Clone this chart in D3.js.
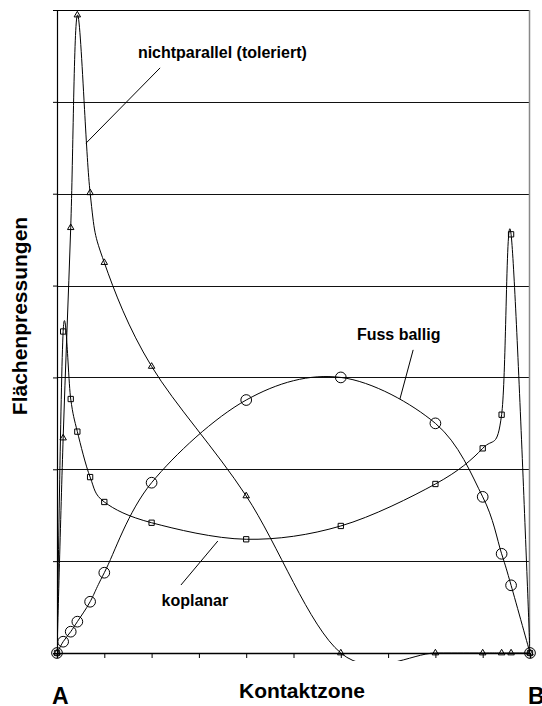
<!DOCTYPE html>
<meta charset="utf-8">
<style>
body { margin: 0; background: #fff; }
svg { font-family: "Liberation Sans", Arial, sans-serif; font-weight: bold; }
.grid line { stroke: #111; stroke-width: 1px; shape-rendering: crispEdges; }
.curve { fill: none; stroke: #000; stroke-width: 1px; }
.marker { fill: none; stroke: #000; stroke-width: 1px; }
.leader { stroke: #000; stroke-width: 1px; }
</style>
<svg width="542" height="706"></svg>
<script src="https://d3js.org/d3.v7.min.js"></script>
<script>

// positions along the contact zone (A = 0, B = 1)
var xs = [0, 0.013, 0.029, 0.043, 0.07, 0.1, 0.2, 0.4, 0.6, 0.8, 0.9, 0.94, 0.96, 1];

// pressure values (grid units)
var nichtparallel = [0, 2.34, 4.63, 6.945, 5.01, 4.25, 3.12, 1.71, 0, 0, 0, 0, 0, 0];
var koplanar      = [0, 3.5, 2.765, 2.41, 1.915, 1.644, 1.418, 1.238, 1.383, 1.84, 2.228, 2.594, 4.558, 0];
var fussBallig    = [0, 0.123, 0.232, 0.341, 0.558, 0.874, 1.854, 2.754, 3.0, 2.5, 1.7, 1.08, 0.737, 0];

var xTicks = d3.range(0, 1.0001, 0.1);
var yTicks = [0, 1, 2, 3, 4, 5, 6, 7];

// labels with leader lines (data units)
var notes = [
  { text: "nichtparallel (toleriert)", at: [0.171, 6.48], line: [0.218, 6.37, 0.0613, 5.55] },
  { text: "Fuss ballig", at: [0.634, 3.41], line: [0.753, 3.30, 0.725, 2.765] },
  { text: "koplanar", at: [0.221, 0.512], line: [0.262, 0.74, 0.340, 1.219] }
];

var svg = d3.select("svg"),
    plotLeft = 57, plotRight = 530, plotTop = 10, plotBottom = 653;

var x = d3.scaleLinear().domain([0, 1]).range([plotLeft, plotRight]);
var y = d3.scaleLinear().domain([0, 7]).range([plotBottom, plotTop]);

// horizontal grid
svg.append("g")
    .attr("class", "grid")
    .selectAll("line")
    .data(yTicks.slice(1, -1))
    .enter().append("line")
    .attr("x1", plotLeft).attr("x2", plotRight)
    .attr("y1", function(d) { return Math.round(y(d)) + 0.5; })
    .attr("y2", function(d) { return Math.round(y(d)) + 0.5; });

// frame: top black, right grey
svg.append("line").attr("x1", plotLeft).attr("x2", plotRight).attr("y1", plotTop + 0.5).attr("y2", plotTop + 0.5).attr("stroke", "#000");
svg.append("line").attr("x1", plotRight - 0.5).attr("x2", plotRight - 0.5).attr("y1", plotTop).attr("y2", plotBottom).attr("stroke", "#888").attr("stroke-width", 1.5);

// axes without labels
svg.append("g")
    .attr("transform", "translate(0," + plotBottom + ")")
    .call(d3.axisBottom(x).tickValues(xTicks).tickSize(5).tickFormat(""))
    .call(function(g) { g.select(".domain").attr("stroke-width", 1.5); });

svg.append("g")
    .attr("transform", "translate(" + plotLeft + ",0)")
    .call(d3.axisLeft(y).tickValues(yTicks).tickSize(4).tickFormat(""))
    .call(function(g) { g.select(".domain").attr("stroke-width", 1.2); });

// curves, clipped a little below the axis
svg.append("clipPath").attr("id", "clip")
  .append("rect").attr("x", plotLeft).attr("y", plotTop).attr("width", plotRight - plotLeft).attr("height", plotBottom - plotTop + 8);

var line = d3.line()
    .x(function(d) { return x(d[0]); })
    .y(function(d) { return y(d[1]); })
    .curve(d3.curveCardinal.tension(0));

var series = [
  { values: nichtparallel, symbol: d3.symbolTriangle, size: 18 },
  { values: koplanar, symbol: d3.symbolSquare, size: 28 },
  { values: fussBallig, symbol: d3.symbolCircle, size: 90 }
];

series.forEach(function(s) {
  var pts = xs.map(function(v, i) { return [v, s.values[i]]; });
  svg.append("path")
      .attr("class", "curve")
      .attr("clip-path", "url(#clip)")
      .attr("d", line(pts));
  svg.append("g").selectAll("path")
      .data(pts)
      .enter().append("path")
      .attr("class", "marker")
      .attr("transform", function(d) { return "translate(" + x(d[0]) + "," + y(d[1]) + ")"; })
      .attr("d", d3.symbol().type(s.symbol).size(s.size));
});

// annotations
notes.forEach(function(n) {
  svg.append("line")
      .attr("class", "leader")
      .attr("x1", x(n.line[0])).attr("y1", y(n.line[1]))
      .attr("x2", x(n.line[2])).attr("y2", y(n.line[3]));
  svg.append("text")
      .attr("x", x(n.at[0])).attr("y", y(n.at[1]))
      .attr("font-size", 16)
      .text(n.text);
});

// axis titles
svg.append("text")
    .attr("x", 302).attr("y", 698)
    .attr("text-anchor", "middle")
    .attr("font-size", 21)
    .text("Kontaktzone");

svg.append("text")
    .attr("transform", "translate(27,316) rotate(-90)")
    .attr("text-anchor", "middle")
    .attr("font-size", 21)
    .text("Flächenpressungen");

svg.append("text").attr("x", 52).attr("y", 704).attr("font-size", 23).text("A");
svg.append("text").attr("x", 528).attr("y", 704).attr("font-size", 23).text("B");

</script>
